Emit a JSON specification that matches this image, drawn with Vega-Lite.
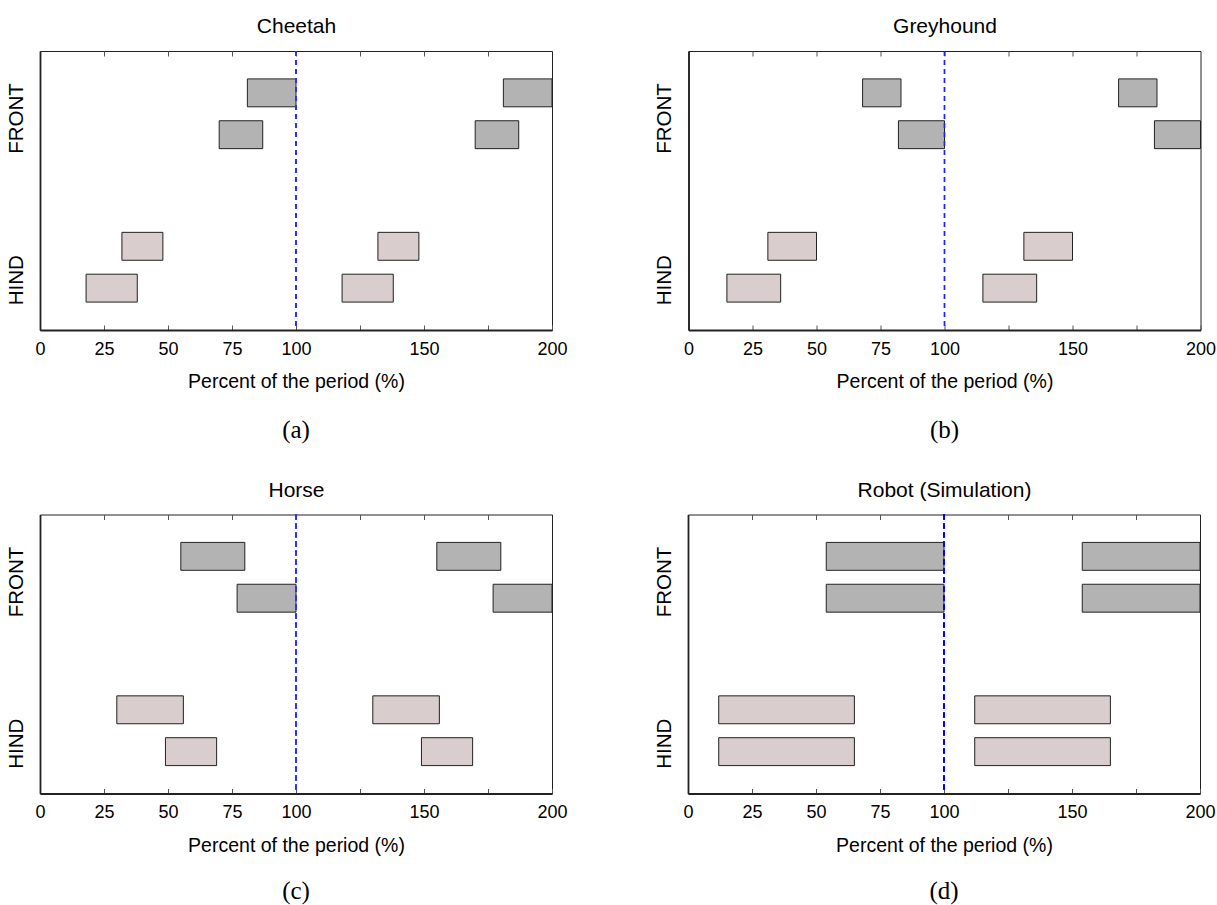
{
  "$schema": "https://vega.github.io/schema/vega-lite/v6.json",
  "padding": {"left": 5, "top": 15, "right": 0, "bottom": 0},
  "background": "white",
  "datasets": {
    "gait": [
      {"animal": "Cheetah", "leg": "FRONT", "yb": 16, "yt": 18, "start": 81, "end": 100},
      {"animal": "Cheetah", "leg": "FRONT", "yb": 16, "yt": 18, "start": 181, "end": 200},
      {"animal": "Cheetah", "leg": "FRONT", "yb": 13, "yt": 15, "start": 70, "end": 87},
      {"animal": "Cheetah", "leg": "FRONT", "yb": 13, "yt": 15, "start": 170, "end": 187},
      {"animal": "Cheetah", "leg": "HIND", "yb": 5, "yt": 7, "start": 32, "end": 48},
      {"animal": "Cheetah", "leg": "HIND", "yb": 5, "yt": 7, "start": 132, "end": 148},
      {"animal": "Cheetah", "leg": "HIND", "yb": 2, "yt": 4, "start": 18, "end": 38},
      {"animal": "Cheetah", "leg": "HIND", "yb": 2, "yt": 4, "start": 118, "end": 138},
      {"animal": "Greyhound", "leg": "FRONT", "yb": 16, "yt": 18, "start": 68, "end": 83},
      {"animal": "Greyhound", "leg": "FRONT", "yb": 16, "yt": 18, "start": 168, "end": 183},
      {"animal": "Greyhound", "leg": "FRONT", "yb": 13, "yt": 15, "start": 82, "end": 100},
      {"animal": "Greyhound", "leg": "FRONT", "yb": 13, "yt": 15, "start": 182, "end": 200},
      {"animal": "Greyhound", "leg": "HIND", "yb": 5, "yt": 7, "start": 31, "end": 50},
      {"animal": "Greyhound", "leg": "HIND", "yb": 5, "yt": 7, "start": 131, "end": 150},
      {"animal": "Greyhound", "leg": "HIND", "yb": 2, "yt": 4, "start": 15, "end": 36},
      {"animal": "Greyhound", "leg": "HIND", "yb": 2, "yt": 4, "start": 115, "end": 136},
      {"animal": "Horse", "leg": "FRONT", "yb": 16, "yt": 18, "start": 55, "end": 80},
      {"animal": "Horse", "leg": "FRONT", "yb": 16, "yt": 18, "start": 155, "end": 180},
      {"animal": "Horse", "leg": "FRONT", "yb": 13, "yt": 15, "start": 77, "end": 100},
      {"animal": "Horse", "leg": "FRONT", "yb": 13, "yt": 15, "start": 177, "end": 200},
      {"animal": "Horse", "leg": "HIND", "yb": 5, "yt": 7, "start": 30, "end": 56},
      {"animal": "Horse", "leg": "HIND", "yb": 5, "yt": 7, "start": 130, "end": 156},
      {"animal": "Horse", "leg": "HIND", "yb": 2, "yt": 4, "start": 49, "end": 69},
      {"animal": "Horse", "leg": "HIND", "yb": 2, "yt": 4, "start": 149, "end": 169},
      {"animal": "Robot", "leg": "FRONT", "yb": 16, "yt": 18, "start": 54, "end": 100},
      {"animal": "Robot", "leg": "FRONT", "yb": 16, "yt": 18, "start": 154, "end": 200},
      {"animal": "Robot", "leg": "FRONT", "yb": 13, "yt": 15, "start": 54, "end": 100},
      {"animal": "Robot", "leg": "FRONT", "yb": 13, "yt": 15, "start": 154, "end": 200},
      {"animal": "Robot", "leg": "HIND", "yb": 5, "yt": 7, "start": 12, "end": 65},
      {"animal": "Robot", "leg": "HIND", "yb": 5, "yt": 7, "start": 112, "end": 165},
      {"animal": "Robot", "leg": "HIND", "yb": 2, "yt": 4, "start": 12, "end": 65},
      {"animal": "Robot", "leg": "HIND", "yb": 2, "yt": 4, "start": 112, "end": 165}
    ]
  },
  "concat": [
    {
      "spacing": 85.5,
      "hconcat": [
        {
          "data": {"name": "gait"},
          "transform": [{"filter": "datum.animal == 'Cheetah'"}],
          "width": 512, "height": 279,
          "title": {"text": "(a)", "orient": "bottom", "offset": 27},
          "resolve": {"axis": {"x": "independent"}},
          "layer": [
            {
              "mark": {"type": "bar", "stroke": "#222222", "strokeWidth": 1},
              "encoding": {
                "x": {"field": "start", "type": "quantitative", "scale": {"domain": [0, 200], "nice": false}, "axis": {"orient": "bottom", "values": [0, 25, 50, 75, 100, 125, 150, 175, 200], "labelExpr": "datum.value == 125 || datum.value == 175 ? '' : datum.label", "tickSize": -5, "labelPadding": 15, "labelFlush": false, "labelOverlap": false, "domainWidth": 1.8, "title": "Percent of the period (%)", "titlePadding": 14}},
                "x2": {"field": "end"},
                "y": {"field": "yb", "type": "quantitative", "scale": {"domain": [0, 20], "nice": false}, "axis": {"orient": "left", "values": [3.6, 15.2], "labelExpr": "datum.value > 10 ? 'FRONT' : 'HIND'", "ticks": false, "labelAngle": 270, "labelAlign": "center", "labelBaseline": "bottom", "labelFontSize": 20.5, "labelPadding": 14, "domainWidth": 1.8, "title": null}},
                "y2": {"field": "yt"},
                "fill": {"field": "leg", "type": "nominal", "scale": {"domain": ["FRONT", "HIND"], "range": ["#b3b3b3", "#d9cdcd"]}, "legend": null}
              }
            },
            {
              "mark": {"type": "rule", "color": "#3030ff", "strokeWidth": 1.1, "strokeDash": [5, 4]},
              "encoding": {"x": {"datum": 100, "type": "quantitative", "axis": {"orient": "top", "values": [25, 50, 75, 100, 125, 150, 175], "labels": false, "domain": false, "tickSize": -5, "title": "Cheetah", "titleFontSize": 21, "titlePadding": 14}}}
            }
          ]
        },
        {
          "data": {"name": "gait"},
          "transform": [{"filter": "datum.animal == 'Greyhound'"}],
          "width": 512, "height": 279,
          "title": {"text": "(b)", "orient": "bottom", "offset": 27},
          "resolve": {"axis": {"x": "independent"}},
          "layer": [
            {
              "mark": {"type": "bar", "stroke": "#222222", "strokeWidth": 1},
              "encoding": {
                "x": {"field": "start", "type": "quantitative", "scale": {"domain": [0, 200], "nice": false}, "axis": {"orient": "bottom", "values": [0, 25, 50, 75, 100, 125, 150, 175, 200], "labelExpr": "datum.value == 125 || datum.value == 175 ? '' : datum.label", "tickSize": -5, "labelPadding": 15, "labelFlush": false, "labelOverlap": false, "domainWidth": 1.8, "title": "Percent of the period (%)", "titlePadding": 14}},
                "x2": {"field": "end"},
                "y": {"field": "yb", "type": "quantitative", "scale": {"domain": [0, 20], "nice": false}, "axis": {"orient": "left", "values": [3.6, 15.2], "labelExpr": "datum.value > 10 ? 'FRONT' : 'HIND'", "ticks": false, "labelAngle": 270, "labelAlign": "center", "labelBaseline": "bottom", "labelFontSize": 20.5, "labelPadding": 14, "domainWidth": 1.8, "title": null}},
                "y2": {"field": "yt"},
                "fill": {"field": "leg", "type": "nominal", "scale": {"domain": ["FRONT", "HIND"], "range": ["#b3b3b3", "#d9cdcd"]}, "legend": null}
              }
            },
            {
              "mark": {"type": "rule", "color": "#2020ff", "strokeWidth": 1.1, "strokeDash": [5, 4]},
              "encoding": {"x": {"datum": 100, "type": "quantitative", "axis": {"orient": "top", "values": [25, 50, 75, 100, 125, 150, 175], "labels": false, "domain": false, "tickSize": -5, "title": "Greyhound", "titleFontSize": 21, "titlePadding": 14}}}
            }
          ]
        }
      ]
    },
    {
      "spacing": 85,
      "hconcat": [
        {
          "data": {"name": "gait"},
          "transform": [{"filter": "datum.animal == 'Horse'"}],
          "width": 512, "height": 279,
          "title": {"text": "(c)", "orient": "bottom", "offset": 24},
          "resolve": {"axis": {"x": "independent"}},
          "layer": [
            {
              "mark": {"type": "bar", "stroke": "#222222", "strokeWidth": 1},
              "encoding": {
                "x": {"field": "start", "type": "quantitative", "scale": {"domain": [0, 200], "nice": false}, "axis": {"orient": "bottom", "values": [0, 25, 50, 75, 100, 125, 150, 175, 200], "labelExpr": "datum.value == 125 || datum.value == 175 ? '' : datum.label", "tickSize": -5, "labelPadding": 15, "labelFlush": false, "labelOverlap": false, "domainWidth": 1.8, "title": "Percent of the period (%)", "titlePadding": 15}},
                "x2": {"field": "end"},
                "y": {"field": "yb", "type": "quantitative", "scale": {"domain": [0, 20], "nice": false}, "axis": {"orient": "left", "values": [3.6, 15.2], "labelExpr": "datum.value > 10 ? 'FRONT' : 'HIND'", "ticks": false, "labelAngle": 270, "labelAlign": "center", "labelBaseline": "bottom", "labelFontSize": 20.5, "labelPadding": 14, "domainWidth": 1.8, "title": null}},
                "y2": {"field": "yt"},
                "fill": {"field": "leg", "type": "nominal", "scale": {"domain": ["FRONT", "HIND"], "range": ["#b3b3b3", "#d9cdcd"]}, "legend": null}
              }
            },
            {
              "mark": {"type": "rule", "color": "#3030ff", "strokeWidth": 1.1, "strokeDash": [5, 4]},
              "encoding": {"x": {"datum": 100, "type": "quantitative", "axis": {"orient": "top", "values": [25, 50, 75, 100, 125, 150, 175], "labels": false, "domain": false, "tickSize": -5, "title": "Horse", "titleFontSize": 21, "titlePadding": 14}}}
            }
          ]
        },
        {
          "data": {"name": "gait"},
          "transform": [{"filter": "datum.animal == 'Robot'"}],
          "width": 512, "height": 279,
          "title": {"text": "(d)", "orient": "bottom", "offset": 24},
          "resolve": {"axis": {"x": "independent"}},
          "layer": [
            {
              "mark": {"type": "bar", "stroke": "#222222", "strokeWidth": 1},
              "encoding": {
                "x": {"field": "start", "type": "quantitative", "scale": {"domain": [0, 200], "nice": false}, "axis": {"orient": "bottom", "values": [0, 25, 50, 75, 100, 125, 150, 175, 200], "labelExpr": "datum.value == 125 || datum.value == 175 ? '' : datum.label", "tickSize": -5, "labelPadding": 15, "labelFlush": false, "labelOverlap": false, "domainWidth": 1.8, "title": "Percent of the period (%)", "titlePadding": 15}},
                "x2": {"field": "end"},
                "y": {"field": "yb", "type": "quantitative", "scale": {"domain": [0, 20], "nice": false}, "axis": {"orient": "left", "values": [3.6, 15.2], "labelExpr": "datum.value > 10 ? 'FRONT' : 'HIND'", "ticks": false, "labelAngle": 270, "labelAlign": "center", "labelBaseline": "bottom", "labelFontSize": 20.5, "labelPadding": 14, "domainWidth": 1.8, "title": null}},
                "y2": {"field": "yt"},
                "fill": {"field": "leg", "type": "nominal", "scale": {"domain": ["FRONT", "HIND"], "range": ["#b3b3b3", "#d9cdcd"]}, "legend": null}
              }
            },
            {
              "mark": {"type": "rule", "color": "#0000ff", "strokeWidth": 1.1, "strokeDash": [5, 4]},
              "encoding": {"x": {"datum": 100, "type": "quantitative", "axis": {"orient": "top", "values": [25, 50, 75, 100, 125, 150, 175], "labels": false, "domain": false, "tickSize": -5, "title": "Robot (Simulation)", "titleFontSize": 21, "titlePadding": 14}}}
            }
          ]
        }
      ]
    }
  ],
  "columns": 1,
  "align": "none",
  "spacing": 35.5,
  "config": {
    "font": "Liberation Sans",
    "view": {"stroke": "#222222", "strokeWidth": 1},
    "axis": {
      "grid": false,
      "labelFont": "Liberation Sans",
      "titleFont": "Liberation Sans",
      "labelFontSize": 18,
      "titleFontSize": 19.5,
      "titleFontWeight": "normal",
      "labelColor": "#000000",
      "titleColor": "#000000",
      "domainColor": "#222222",
      "tickColor": "#555555",
      "tickWidth": 1
    },
    "title": {
      "font": "Liberation Serif",
      "fontSize": 25,
      "fontWeight": "normal",
      "color": "#000000",
      "anchor": "middle"
    }
  }
}
